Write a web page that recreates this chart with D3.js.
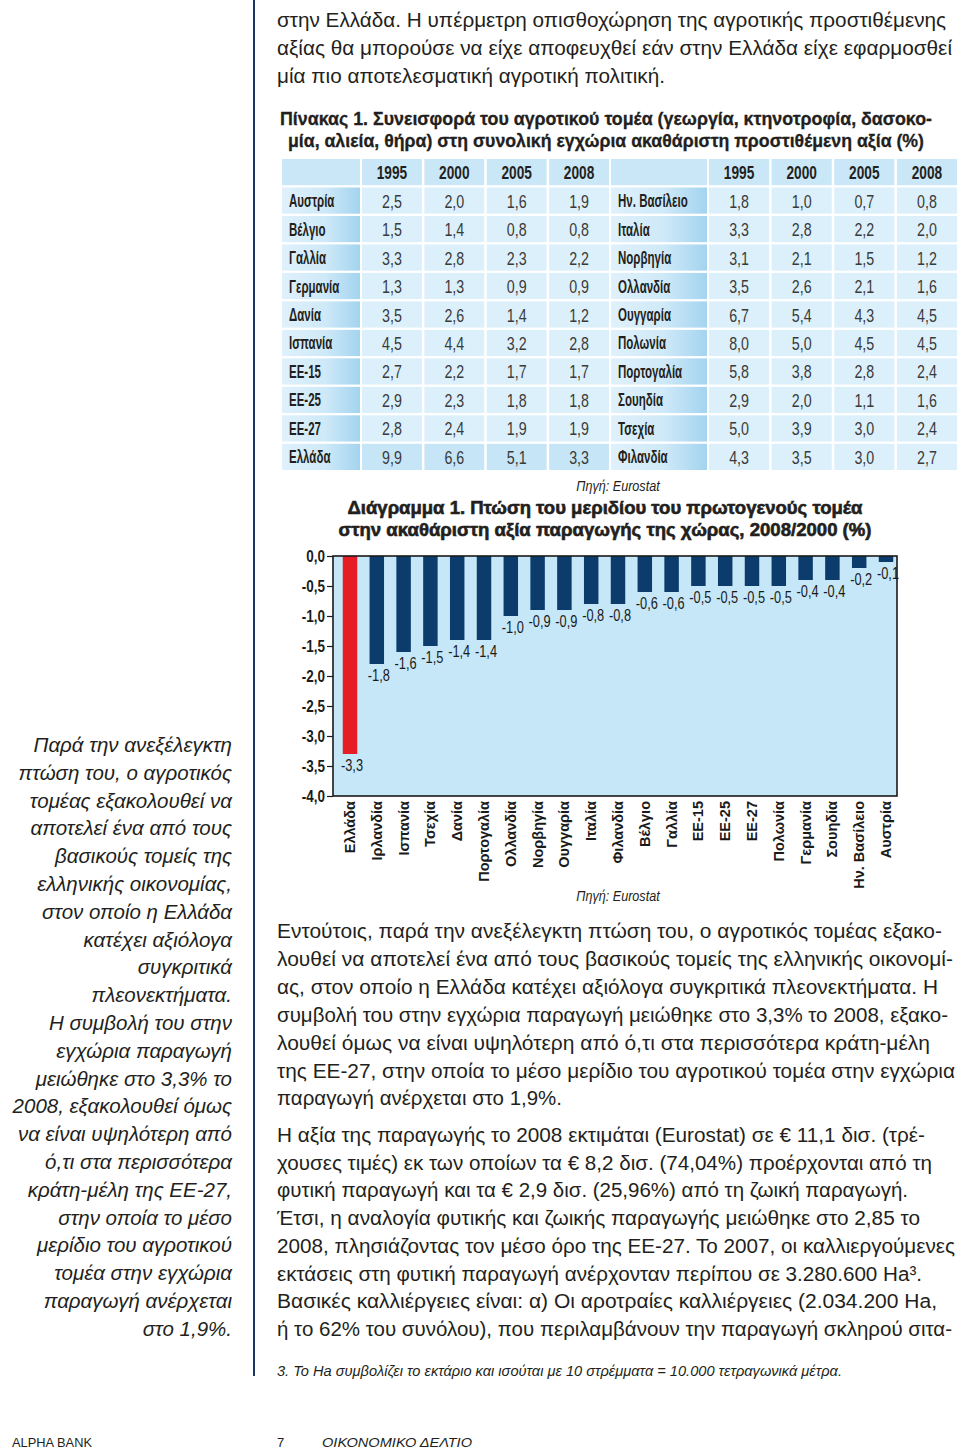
<!DOCTYPE html>
<html><head><meta charset="utf-8">
<script src="https://cdn.jsdelivr.net/npm/d3@7"></script>
<style>
html,body{margin:0;padding:0;background:#fff;}
svg{display:block;}
</style></head><body>
<svg id="page" width="960" height="1451"></svg>
<script>
// ---------- DATA ----------
const tableYears = ["1995", "2000", "2005", "2008"];
const tableLeftCountries = ["Αυστρία","Βέλγιο","Γαλλία","Γερμανία","Δανία","Ισπανία","ΕΕ-15","ΕΕ-25","ΕΕ-27","Ελλάδα"];
const tableLeftValues = [
  [2.5,2.0,1.6,1.9],[1.5,1.4,0.8,0.8],[3.3,2.8,2.3,2.2],[1.3,1.3,0.9,0.9],[3.5,2.6,1.4,1.2],
  [4.5,4.4,3.2,2.8],[2.7,2.2,1.7,1.7],[2.9,2.3,1.8,1.8],[2.8,2.4,1.9,1.9],[9.9,6.6,5.1,3.3]
];
const tableRightCountries = ["Ην. Βασίλειο","Ιταλία","Νορβηγία","Ολλανδία","Ουγγαρία","Πολωνία","Πορτογαλία","Σουηδία","Τσεχία","Φιλανδία"];
const tableRightValues = [
  [1.8,1.0,0.7,0.8],[3.3,2.8,2.2,2.0],[3.1,2.1,1.5,1.2],[3.5,2.6,2.1,1.6],[6.7,5.4,4.3,4.5],
  [8.0,5.0,4.5,4.5],[5.8,3.8,2.8,2.4],[2.9,2.0,1.1,1.6],[5.0,3.9,3.0,2.4],[4.3,3.5,3.0,2.7]
];
const chartCategories = ["Ελλάδα","Ιρλανδία","Ισπανία","Τσεχία","Δανία","Πορτογαλία","Ολλανδία","Νορβηγία","Ουγγαρία","Ιταλία","Φιλανδία","Βέλγιο","Γαλλία","ΕΕ-15","ΕΕ-25","ΕΕ-27","Πολωνία","Γερμανία","Σουηδία","Ην. Βασίλειο","Αυστρία"];
const chartValues = [-3.3,-1.8,-1.6,-1.5,-1.4,-1.4,-1.0,-0.9,-0.9,-0.8,-0.8,-0.6,-0.6,-0.5,-0.5,-0.5,-0.5,-0.4,-0.4,-0.2,-0.1];
const yTicks = [0,-0.5,-1.0,-1.5,-2.0,-2.5,-3.0,-3.5,-4.0];

// ---------- TEXT ----------
const introLines = [
  "στην Ελλάδα. Η υπέρμετρη οπισθοχώρηση της αγροτικής προστιθέμενης",
  "αξίας θα μπορούσε να είχε αποφευχθεί εάν στην Ελλάδα είχε εφαρμοσθεί",
  "μία πιο αποτελεσματική αγροτική πολιτική."
];
const tableTitleLines = [
  "Πίνακας 1. Συνεισφορά του αγροτικού τομέα (γεωργία, κτηνοτροφία, δασοκο-",
  "μία, αλιεία, θήρα) στη συνολική εγχώρια ακαθάριστη προστιθέμενη αξία (%)"
];
const chartTitleLines = [
  "Διάγραμμα 1. Πτώση του μεριδίου του πρωτογενούς τομέα",
  "στην ακαθάριστη αξία παραγωγής της χώρας, 2008/2000 (%)"
];
const sourceText = "Πηγή: Eurostat";
const para1Lines = [
  "Εντούτοις, παρά την ανεξέλεγκτη πτώση του, ο αγροτικός τομέας εξακο-",
  "λουθεί να αποτελεί ένα από τους βασικούς τομείς της ελληνικής οικονομί-",
  "ας, στον οποίο η Ελλάδα κατέχει αξιόλογα συγκριτικά πλεονεκτήματα. Η",
  "συμβολή του στην εγχώρια παραγωγή μειώθηκε στο 3,3% το 2008, εξακο-",
  "λουθεί όμως να είναι υψηλότερη από ό,τι στα περισσότερα κράτη-μέλη",
  "της ΕΕ-27, στην οποία το μέσο μερίδιο του αγροτικού τομέα στην εγχώρια",
  "παραγωγή ανέρχεται στο 1,9%."
];
const para2Lines = [
  "Η αξία της παραγωγής το 2008 εκτιμάται (Eurostat) σε € 11,1 δισ. (τρέ-",
  "χουσες τιμές) εκ των οποίων τα € 8,2 δισ. (74,04%) προέρχονται από τη",
  "φυτική παραγωγή και τα € 2,9 δισ. (25,96%) από τη ζωική παραγωγή.",
  "Έτσι, η αναλογία φυτικής και ζωικής παραγωγής μειώθηκε στο 2,85 το",
  "2008, πλησιάζοντας τον μέσο όρο της ΕΕ-27. Το 2007, οι καλλιεργούμενες",
  "εκτάσεις στη φυτική παραγωγή ανέρχονταν περίπου σε 3.280.600 Ha³.",
  "Βασικές καλλιέργειες είναι: α) Οι αροτραίες καλλιέργειες (2.034.200 Ha,",
  "ή το 62% του συνόλου), που περιλαμβάνουν την παραγωγή σκληρού σιτα-"
];
const sidebarLines = [
  "Παρά την ανεξέλεγκτη","πτώση του, ο αγροτικός","τομέας εξακολουθεί να","αποτελεί ένα από τους",
  "βασικούς τομείς της","ελληνικής οικονομίας,","στον οποίο η Ελλάδα","κατέχει αξιόλογα",
  "συγκριτικά","πλεονεκτήματα.","Η συμβολή του στην","εγχώρια παραγωγή",
  "μειώθηκε στο 3,3% το","2008, εξακολουθεί όμως","να είναι υψηλότερη από","ό,τι στα περισσότερα",
  "κράτη-μέλη της ΕΕ-27,","στην οποία το μέσο","μερίδιο του αγροτικού","τομέα στην εγχώρια",
  "παραγωγή ανέρχεται","στο 1,9%."
];
const footnoteText = "3. Το Ha συμβολίζει το εκτάριο και ισούται με 10 στρέμματα = 10.000 τετραγωνικά μέτρα.";
const footerLeft = "ALPHA BANK";
const footerPage = "7";
const footerTitle = "ΟΙΚΟΝΟΜΙΚΟ ΔΕΛΤΙΟ";

// ---------- LAYOUT (line widths for justification) ----------
const introWidths = [669, 675, 388];
const tableTitleWidths = [652, 636];
const chartTitleWidths = [515, 533];
const para1Widths = [665, 676, 661, 671, 653, 678, 285];
const para2Widths = [648, 655, 631, 643, 678, 645, 660, 675];

const FONT = "'Liberation Sans', Arial, Helvetica, sans-serif";
const INK = "#231f20";
const fmt = v => d3.format(".1f")(v).replace(".", ",").replace("−", "-");

const svg = d3.select("#page");
svg.append("rect").attr("width", 960).attr("height", 1451).attr("fill", "#fff");

function fit(sel, w) { if (w) sel.attr("textLength", w).attr("lengthAdjust", "spacingAndGlyphs"); }
function condense(sel, f) {
  sel.each(function () {
    const L = this.getComputedTextLength();
    d3.select(this).attr("textLength", L * f).attr("lengthAdjust", "spacingAndGlyphs");
  });
}
function lines(arr, x, y0, lh, size, widths, opts = {}) {
  arr.forEach((t, i) => {
    const s = svg.append("text").attr("x", (opts.xs && opts.xs[i]) || x).attr("y", y0 + i * lh)
      .attr("font-family", opts.family || FONT).attr("font-size", size)
      .attr("font-weight", opts.weight || "normal").attr("font-style", opts.italic ? "italic" : "normal")
      .attr("text-anchor", opts.anchor || "start").attr("fill", opts.fill || INK).text(t);
    if (opts.stroke) s.attr("stroke", opts.fill || INK).attr("stroke-width", opts.stroke);
    if (widths) fit(s, widths[i]);
  });
}

// vertical divider
svg.append("line").attr("x1", 254).attr("x2", 254).attr("y1", 0).attr("y2", 1376)
  .attr("stroke", "#1d3461").attr("stroke-width", 2);

// intro
lines(introLines, 277, 27, 28, 20, introWidths);
// table title
lines(tableTitleLines, 280, 125, 22, 17.5, tableTitleWidths, { weight: "bold", xs: [280, 288], stroke: 0.3 });

// ---------- TABLE ----------
const defs = svg.append("defs");
const grad = defs.append("linearGradient").attr("id", "lblGrad").attr("x1", "0").attr("x2", "1").attr("y1", "0").attr("y2", "0");
grad.append("stop").attr("offset", "0").attr("stop-color", "#dff1fb");
grad.append("stop").attr("offset", "0.55").attr("stop-color", "#cfe9f8");
grad.append("stop").attr("offset", "1").attr("stop-color", "#a3d4ef");

const rowScale = d3.scaleBand().domain(d3.range(11)).range([159, 470]).paddingInner(0.08).paddingOuter(0);

function drawTable(lx0, lx1, yx0, yx1, countries, values) {
  const colScale = d3.scaleBand().domain(tableYears).range([yx0, yx1]).paddingInner(0.04);
  const g = svg.append("g");
  g.append("rect").attr("x", lx0).attr("y", rowScale(0)).attr("width", lx1 - lx0).attr("height", rowScale.bandwidth()).attr("fill", "#c9e7f7");
  g.selectAll(".hy").data(tableYears).join("rect").attr("x", d => colScale(d)).attr("y", rowScale(0))
    .attr("width", colScale.bandwidth()).attr("height", rowScale.bandwidth()).attr("fill", "#c9e7f7");
  g.selectAll(".hyt").data(tableYears).join("text").attr("x", d => colScale(d) + colScale.bandwidth() / 2)
    .attr("y", rowScale(0) + rowScale.bandwidth() / 2 + 6.5).attr("text-anchor", "middle")
    .attr("font-family", FONT).attr("font-weight", "bold").attr("font-size", 18).attr("fill", INK).text(d => d)
    .call(condense, 0.76);
  countries.forEach((c, i) => {
    const y = rowScale(i + 1);
    g.append("rect").attr("x", lx0).attr("y", y).attr("width", lx1 - lx0).attr("height", rowScale.bandwidth()).attr("fill", "url(#lblGrad)");
    g.append("text").attr("x", lx0 + 7).attr("y", y + rowScale.bandwidth() / 2 + 6.5)
      .attr("font-family", FONT).attr("font-weight", "bold").attr("font-size", 18).attr("fill", INK).text(c)
      .call(condense, 0.64);
    const hl = c === "Ελλάδα";
    g.selectAll(null).data(values[i]).join("rect").attr("x", (d, j) => colScale(tableYears[j])).attr("y", y)
      .attr("width", colScale.bandwidth()).attr("height", rowScale.bandwidth()).attr("fill", hl ? "#c6e5f6" : "#dcf0fb");
    g.selectAll(null).data(values[i]).join("text").attr("x", (d, j) => colScale(tableYears[j]) + colScale.bandwidth() / 2)
      .attr("y", y + rowScale.bandwidth() / 2 + 7).attr("text-anchor", "middle")
      .attr("font-family", FONT).attr("font-size", 19).attr("fill", "#3a3a3a").text(d => fmt(d))
      .call(condense, 0.75);
  });
}
drawTable(282, 360, 362, 609, tableLeftCountries, tableLeftValues);
drawTable(611, 707, 709, 957, tableRightCountries, tableRightValues);

// source 1
svg.append("text").attr("x", 618).attr("y", 491).attr("text-anchor", "middle").attr("font-family", FONT)
  .attr("font-style", "italic").attr("font-size", 14).attr("fill", INK).text(sourceText).call(condense, 0.9);

// ---------- CHART ----------
chartTitleLines.forEach((t, i) => {
  svg.append("text").attr("x", 605).attr("y", 514 + i * 22).attr("text-anchor", "middle")
    .attr("font-family", FONT).attr("font-weight", "bold").attr("font-size", 18).attr("fill", INK)
    .attr("stroke", INK).attr("stroke-width", 0.6).text(t).call(fit, chartTitleWidths[i]);
});

const plot = { left: 333, right: 897, top: 556, bottom: 796 };
const y = d3.scaleLinear().domain([-4, 0]).range([plot.bottom, plot.top]);
const x = d3.scaleBand().domain(chartCategories).range([336.6, 899.4]).paddingInner(0.46).paddingOuter(0.23);

svg.append("rect").attr("x", plot.left).attr("y", plot.top).attr("width", plot.right - plot.left)
  .attr("height", plot.bottom - plot.top).attr("fill", "#c6e7f8");

const data = chartCategories.map((c, i) => ({ c, v: chartValues[i] }));
svg.append("g").selectAll("rect").data(data).join("rect")
  .attr("x", d => x(d.c)).attr("y", y(0)).attr("width", x.bandwidth())
  .attr("height", d => y(d.v) - y(0))
  .attr("fill", d => d.c === "Ελλάδα" ? "#e51e26" : "#0c3c6c");

svg.append("rect").attr("x", plot.left).attr("y", plot.top).attr("width", plot.right - plot.left)
  .attr("height", plot.bottom - plot.top).attr("fill", "none").attr("stroke", "#1a1a1a").attr("stroke-width", 1.6);

// value labels
svg.append("g").selectAll("text").data(data).join("text")
  .attr("x", d => x(d.c) + x.bandwidth() / 2 + 2).attr("y", d => y(d.v) + 17)
  .attr("text-anchor", "middle").attr("font-family", FONT).attr("font-size", 16).attr("fill", "#1a1a1a")
  .text(d => fmt(d.v)).call(condense, 0.8);

// y axis
const yAxis = svg.append("g").attr("transform", `translate(${plot.left},0)`)
  .call(d3.axisLeft(y).tickValues(yTicks).tickSize(6).tickPadding(2).tickFormat(fmt));
yAxis.select(".domain").remove();
yAxis.selectAll(".tick line").attr("stroke", "#1a1a1a").attr("stroke-width", 1.2);
yAxis.selectAll(".tick text").attr("font-family", FONT).attr("font-weight", "bold").attr("font-size", 16)
  .attr("fill", "#1a1a1a").call(condense, 0.84);

// x labels
svg.append("g").selectAll("text").data(chartCategories).join("text")
  .attr("transform", d => `translate(${x(d) + x.bandwidth() / 2 + 5},801) rotate(-90)`)
  .attr("text-anchor", "end").attr("font-family", FONT).attr("font-weight", "bold").attr("font-size", 14.5)
  .attr("fill", "#1a1a1a").text(d => d);

// source 2
svg.append("text").attr("x", 618).attr("y", 901).attr("text-anchor", "middle").attr("font-family", FONT)
  .attr("font-style", "italic").attr("font-size", 14).attr("fill", INK).text(sourceText).call(condense, 0.9);

// ---------- BODY TEXT ----------
lines(para1Lines, 277, 938, 27.9, 20, para1Widths);
lines(para2Lines, 277, 1142, 27.7, 20, para2Widths);

// sidebar
lines(sidebarLines, 232, 752, 27.8, 20.5, null, { italic: true, anchor: "end" });

// footnote
svg.append("text").attr("x", 277).attr("y", 1376).attr("font-family", FONT).attr("font-style", "italic")
  .attr("font-size", 14).attr("fill", INK).text(footnoteText).call(fit, 565);

// footer
svg.append("text").attr("x", 12).attr("y", 1447).attr("font-family", FONT).attr("font-size", 13).attr("fill", INK)
  .text(footerLeft).call(fit, 80);
svg.append("text").attr("x", 277).attr("y", 1447).attr("font-family", FONT).attr("font-size", 13).attr("fill", INK)
  .text(footerPage);
svg.append("text").attr("x", 322).attr("y", 1447).attr("font-family", FONT).attr("font-style", "italic").attr("font-size", 13)
  .attr("fill", INK).text(footerTitle).call(fit, 150);
</script>
</body></html>
